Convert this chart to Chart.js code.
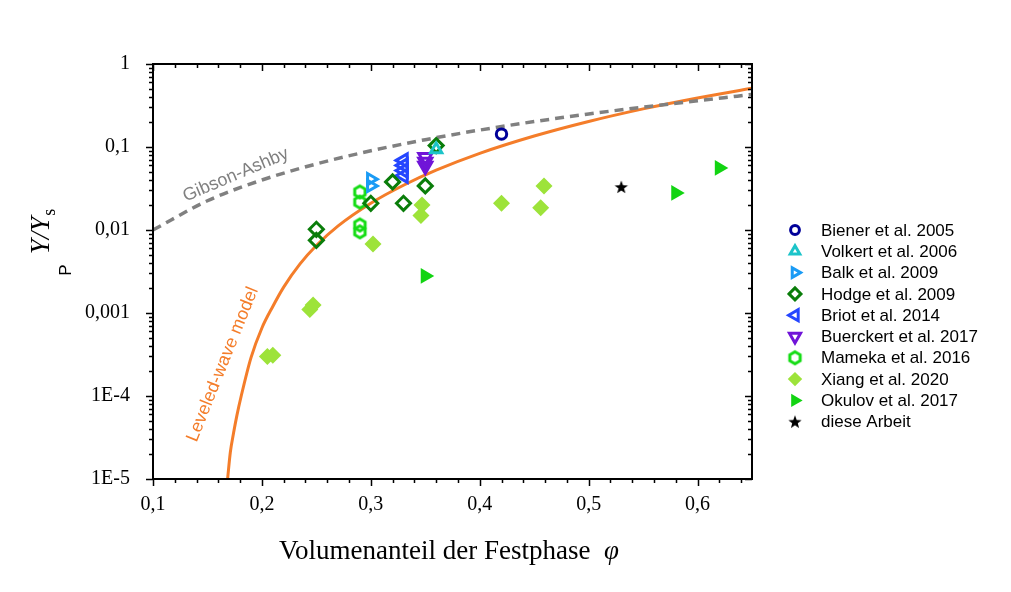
<!DOCTYPE html>
<html lang="de">
<head>
<meta charset="UTF-8">
<title>Y/Ys über Volumenanteil</title>
<script src="https://cdn.jsdelivr.net/npm/chart.js"></script>
<style>
    body { margin: 0; background: #fff; }
    .grafico { width: 1011px; height: 592px; }
</style>
</head>
<body>
<div class="grafico"><canvas id="grafico"></canvas></div>

<script>
    // achsen
    const xTicks = [0.1, 0.2, 0.3, 0.4, 0.5, 0.6];
    const yTicks = [1e-5, 1e-4, 1e-3, 1e-2, 1e-1, 1];
    const yRotulos = ['1E-5', '1E-4', '0,001', '0,01', '0,1', '1'];

    const bienerX = [0.42];
    const bienerY = [0.143];
    const volkertX = [0.36];
    const volkertY = [0.093];
    const balkX = [0.30, 0.30];
    const balkY = [0.041, 0.034];
    const hodgeX = [0.25, 0.25, 0.30, 0.32, 0.33, 0.35, 0.36];
    const hodgeY = [0.0102, 0.0075, 0.021, 0.038, 0.021, 0.034, 0.104];
    const briotX = [0.33, 0.33, 0.33, 0.33];
    const briotY = [0.069, 0.060, 0.052, 0.045];
    const buerckertX = [0.35, 0.35, 0.35];
    const buerckertY = [0.075, 0.066, 0.059];
    const mamekaX = [0.29, 0.29, 0.29, 0.29];
    const mamekaY = [0.0287, 0.0217, 0.0115, 0.0095];
    const xiangX = [0.205, 0.21, 0.244, 0.247, 0.302, 0.347, 0.346, 0.42, 0.459, 0.456];
    const xiangY = [0.0003, 0.00031, 0.0011, 0.00125, 0.0068, 0.020, 0.015, 0.021, 0.034, 0.0185];
    const okulovX = [0.35, 0.58, 0.62];
    const okulovY = [0.0028, 0.028, 0.056];
    const arbeitX = [0.53];
    const arbeitY = [0.033];

    // modellkurven
    const gibsonX = [0.10, 0.15, 0.20, 0.25, 0.30, 0.35, 0.40, 0.45, 0.50, 0.55, 0.60, 0.65];
    const gibsonY = [0.010, 0.0225, 0.040, 0.0625, 0.090, 0.1225, 0.160, 0.2025, 0.250, 0.3025, 0.360, 0.43];
    const wellenX = [0.1685, 0.171, 0.174, 0.177, 0.181, 0.19, 0.20, 0.21, 0.22, 0.235, 0.25, 0.27, 0.30, 0.33, 0.36, 0.40, 0.45, 0.50, 0.55, 0.60, 0.65];
    const wellenY = [1e-5, 2.1e-5, 3.6e-5, 5.8e-5, 1.0e-4, 2.9e-4, 6.6e-4, 1.2e-3, 2.05e-3, 3.9e-3, 6.5e-3, 0.0112, 0.021, 0.0346, 0.0525, 0.0838, 0.1355, 0.203, 0.288, 0.39, 0.51];

    function pontos(xs, ys) {
        return xs.map(function (x, i) { return { x: x, y: ys[i] } })
    }

    // sechseck und stern als bild
    function sechseck(cor) {
        const c = document.createElement('canvas')
        c.width = 17; c.height = 17
        const g = c.getContext('2d')
        g.strokeStyle = cor
        g.lineWidth = 3
        g.beginPath()
        for (let i = 0; i < 6; i++) {
            const a = Math.PI / 3 * i - Math.PI / 2
            g.lineTo(8.5 + 6 * Math.cos(a), 8.5 + 6 * Math.sin(a))
        }
        g.closePath()
        g.stroke()
        return c
    }

    function stern(cor) {
        const c = document.createElement('canvas')
        c.width = 16; c.height = 16
        const g = c.getContext('2d')
        g.fillStyle = cor
        g.beginPath()
        for (let i = 0; i < 10; i++) {
            const r = i % 2 == 0 ? 7 : 2.9
            const a = Math.PI / 5 * i - Math.PI / 2
            g.lineTo(8 + r * Math.cos(a), 8.6 + r * Math.sin(a))
        }
        g.closePath()
        g.fill()
        return c
    }

    const leer = 'rgba(0,0,0,0)'

    function serie(rotulo, xs, ys, estilo) {
        return Object.assign({
            label: rotulo,
            data: pontos(xs, ys),
            showLine: false,
            legenda: true,
            order: 0,
            pointRotation: 0,
            pointBackgroundColor: leer,
            pointBorderWidth: 3
        }, estilo)
    }

    const datasets = [
        serie('Biener et al. 2005', bienerX, bienerY, { pointStyle: 'circle', pointRadius: 5.2, pointBorderColor: '#000099' }),
        serie('Volkert et al. 2006', volkertX, volkertY, { pointStyle: 'triangle', pointRadius: 6.5, pointBorderColor: '#1cc4c9' }),
        serie('Balk et al. 2009', balkX, balkY, { pointStyle: 'triangle', pointRotation: 90, pointRadius: 6.5, pointBorderColor: '#1a9bf5' }),
        serie('Hodge et al. 2009', hodgeX, hodgeY, { pointStyle: 'rectRot', pointRadius: 7, pointBorderColor: '#0a7d0a' }),
        serie('Briot et al. 2014', briotX, briotY, { pointStyle: 'triangle', pointRotation: 270, pointRadius: 7.5, pointBorderColor: '#2546ff' }),
        serie('Buerckert et al. 2017', buerckertX, buerckertY, { pointStyle: 'triangle', pointRotation: 180, pointRadius: 7.5, pointBorderColor: '#7014d8' }),
        serie('Mameka et al. 2016', mamekaX, mamekaY, { pointStyle: sechseck('#14dc14'), pointRadius: 6, pointBorderColor: '#14dc14' }),
        serie('Xiang et al. 2020', xiangX, xiangY, { pointStyle: 'rectRot', pointRadius: 8.5, pointBorderWidth: 0, pointBackgroundColor: '#9de33a', pointBorderColor: '#9de33a' }),
        serie('Okulov et al. 2017', okulovX, okulovY, { pointStyle: 'triangle', pointRotation: 90, pointRadius: 9, pointBorderWidth: 0, pointBackgroundColor: '#12d412', pointBorderColor: '#12d412' }),
        serie('diese Arbeit', arbeitX, arbeitY, { pointStyle: stern('#000'), pointRadius: 6, pointBorderColor: '#000' }),
        {
            label: 'Gibson-Ashby',
            data: pontos(gibsonX, gibsonY),
            showLine: true,
            order: 10,
            borderColor: '#808080',
            borderWidth: 3.5,
            borderDash: [9, 6],
            pointRadius: 0,
            cubicInterpolationMode: 'monotone'
        },
        {
            label: 'Leveled-wave model',
            data: pontos(wellenX, wellenY),
            showLine: true,
            order: 10,
            borderColor: '#f47d2a',
            borderWidth: 3,
            pointRadius: 0,
            cubicInterpolationMode: 'monotone'
        }
    ]

    const desenho = {
        id: 'desenho',
        afterDraw(chart) {
            const ctx = chart.ctx
            const a = chart.chartArea
            const sx = chart.scales.x
            const sy = chart.scales.y
            ctx.save()

            // rahmen
            ctx.strokeStyle = '#000'
            ctx.lineWidth = 2
            ctx.strokeRect(a.left, a.top, a.right - a.left, a.bottom - a.top)

            // x ticks
            ctx.lineWidth = 1.5
            ctx.beginPath()
            for (let k = 0; k <= 27; k++) {
                const v = 0.1 + k * 0.02
                const px = Math.round(sx.getPixelForValue(v)) + 0.5
                const l = k % 5 == 0 ? 7 : 4
                ctx.moveTo(px, a.bottom); ctx.lineTo(px, a.bottom + l)
                ctx.moveTo(px, a.top); ctx.lineTo(px, a.top + l)
            }
            // y ticks
            for (let e = -5; e <= 0; e++) {
                for (let m = 1; m <= 9; m++) {
                    if (e == 0 && m > 1) break
                    const py = Math.round(sy.getPixelForValue(m * Math.pow(10, e))) + 0.5
                    const l = m == 1 ? 7 : 4
                    ctx.moveTo(a.left, py); ctx.lineTo(a.left - l, py)
                    ctx.moveTo(a.right, py); ctx.lineTo(a.right - l, py)
                }
            }
            ctx.stroke()

            // x titel
            ctx.fillStyle = '#000'
            ctx.textBaseline = 'middle'
            ctx.font = '27px "Liberation Serif"'
            const t1 = 'Volumenanteil der Festphase  '
            const w1 = ctx.measureText(t1).width
            ctx.font = 'italic 27px "Liberation Serif"'
            const w2 = ctx.measureText('φ').width
            let x0 = 449 - (w1 + w2) / 2
            ctx.font = '27px "Liberation Serif"'
            ctx.fillText(t1, x0, 552)
            ctx.font = 'italic 27px "Liberation Serif"'
            ctx.fillText('φ', x0 + w1, 552)

            // y titel
            ctx.save()
            ctx.translate(40, 232)
            ctx.rotate(-Math.PI / 2)
            ctx.textBaseline = 'alphabetic'
            ctx.font = 'italic 27px "Liberation Serif"'
            const wy = ctx.measureText('Y/Y').width
            ctx.font = '18px "Liberation Serif"'
            const ws = ctx.measureText('s').width
            ctx.font = 'italic 27px "Liberation Serif"'
            ctx.fillText('Y/Y', -(wy + ws) / 2, 9)
            ctx.font = '18px "Liberation Serif"'
            ctx.fillText('s', -(wy + ws) / 2 + wy + 1, 15)
            ctx.restore()

            ctx.save()
            ctx.translate(66, 270)
            ctx.rotate(-Math.PI / 2)
            ctx.textAlign = 'center'
            ctx.font = '17px "Liberation Sans"'
            ctx.fillText('P', 0, 0)
            ctx.restore()

            // kurvenbeschriftung
            ctx.save()
            ctx.translate(sx.getPixelForValue(0.176), sy.getPixelForValue(0.046))
            ctx.rotate(-23 * Math.PI / 180)
            ctx.textAlign = 'center'
            ctx.fillStyle = '#808080'
            ctx.font = '18px "Liberation Sans"'
            ctx.fillText('Gibson-Ashby', 0, 0)
            ctx.restore()

            ctx.save()
            ctx.translate(sx.getPixelForValue(0.164), sy.getPixelForValue(2.4e-4))
            ctx.rotate(-68 * Math.PI / 180)
            ctx.textAlign = 'center'
            ctx.fillStyle = '#f47d2a'
            ctx.font = '18px "Liberation Sans"'
            ctx.fillText('Leveled-wave model', 0, 0)
            ctx.restore()

            // legende
            let ly = 230
            chart.data.datasets.forEach(function (ds) {
                if (!ds.legenda) return
                ctx.fillStyle = ds.pointBackgroundColor
                ctx.strokeStyle = ds.pointBorderColor
                ctx.lineWidth = ds.pointBorderWidth
                Chart.helpers.drawPoint(ctx, {
                    pointStyle: ds.pointStyle,
                    rotation: ds.pointRotation,
                    radius: ds.pointRadius * 0.85,
                    borderWidth: ds.pointBorderWidth
                }, 795, ly)
                ctx.fillStyle = '#000'
                ctx.textAlign = 'left'
                ctx.textBaseline = 'middle'
                ctx.font = '17px "Liberation Sans"'
                ctx.fillText(ds.label, 821, ly + 1)
                ly += 21.3
            })

            ctx.restore()
        }
    }

    new Chart(document.getElementById('grafico'), {
        type: 'scatter',
        data: { datasets: datasets },
        options: {
            responsive: true,
            maintainAspectRatio: false,
            animation: false,
            events: [],
            layout: { padding: { left: 0, right: 259, top: 64, bottom: 0 } },
            plugins: {
                legend: { display: false },
                tooltip: { enabled: false }
            },
            scales: {
                x: {
                    type: 'linear',
                    min: 0.1,
                    max: 0.65,
                    grid: { display: false },
                    border: { display: false },
                    afterBuildTicks: function (s) { s.ticks = xTicks.map(function (v) { return { value: v } }) },
                    afterFit: function (s) { s.height = 113 },
                    ticks: {
                        autoSkip: false,
                        maxRotation: 0,
                        padding: 6,
                        color: '#000',
                        font: { family: 'Liberation Serif', size: 20 },
                        callback: function (v) { return v.toFixed(1).replace('.', ',') }
                    }
                },
                y: {
                    type: 'logarithmic',
                    min: 1e-5,
                    max: 1,
                    grid: { display: false },
                    border: { display: false },
                    afterBuildTicks: function (s) { s.ticks = yTicks.map(function (v) { return { value: v } }) },
                    afterFit: function (s) { s.width = 153 },
                    ticks: {
                        autoSkip: false,
                        padding: 15,
                        color: '#000',
                        font: { family: 'Liberation Serif', size: 20 },
                        callback: function (v, i) { return yRotulos[i] }
                    }
                }
            }
        },
        plugins: [desenho]
    })
</script>
</body>
</html>
